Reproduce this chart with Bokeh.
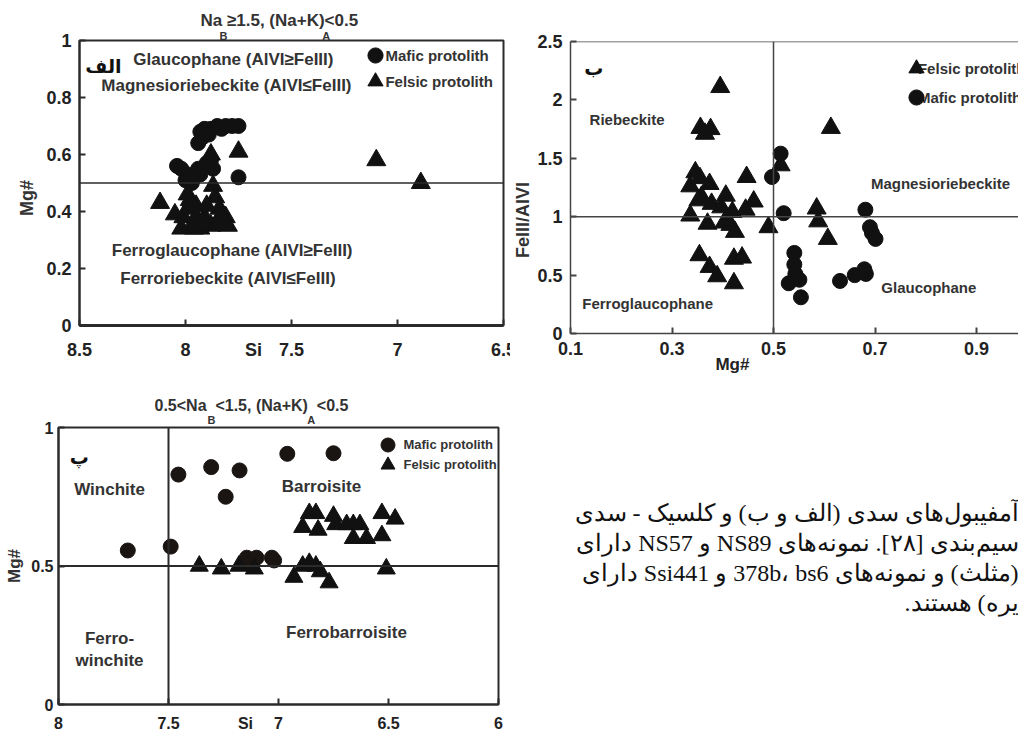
from bokeh.plotting import figure
from bokeh.models import (Range1d, FixedTicker, Span, Label, Legend, LegendItem,
                          LinearAxis, Title)
from bokeh.layouts import column, row
from bokeh.embed import file_html
from bokeh.resources import INLINE

# ---------------- data ----------------
# Panel A (Si vs Mg#)
a_mafic_si = [7.75, 7.78, 7.81, 7.85, 7.88, 7.91, 7.93, 7.92, 7.94, 7.89, 7.83,
              8.04, 8.02, 7.99, 7.96, 7.93, 7.87, 7.90, 7.97, 7.75, 7.88, 8.00, 7.94]
a_mafic_mg = [0.70, 0.70, 0.70, 0.70, 0.69, 0.69, 0.68, 0.66, 0.64, 0.67, 0.69,
              0.56, 0.55, 0.53, 0.52, 0.53, 0.55, 0.57, 0.50, 0.52, 0.58, 0.51, 0.55]
a_felsic_si = [8.12, 8.05, 7.99, 7.95, 7.87, 7.88, 7.75, 7.10, 6.89, 7.86, 7.84, 8.01,
               7.91, 7.81, 7.97, 7.93, 7.88, 7.84, 7.80, 8.02, 7.96, 7.99, 7.95, 7.90,
               7.83, 7.92, 7.98]
a_felsic_mg = [0.43, 0.39, 0.46, 0.42, 0.49, 0.60, 0.61, 0.58, 0.50, 0.45, 0.41, 0.38,
               0.38, 0.38, 0.35, 0.34, 0.35, 0.36, 0.35, 0.34, 0.34, 0.41, 0.38, 0.42,
               0.39, 0.36, 0.44]
a_xticks = [8.5, 8.0, 7.5, 7.0, 6.5]
a_xlabels = ["8.5", "8", "7.5", "7", "6.5"]
a_yticks = [0, 0.2, 0.4, 0.6, 0.8, 1.0]
a_ylabels = ["0", "0.2", "0.4", "0.6", "0.8", "1"]
a_xtitle_at = 7.679
a_mg_split = 0.5

# Panel B (Mg# vs FeIII/AlVI)
b_felsic_mg = [0.395, 0.356, 0.376, 0.365, 0.613, 0.346, 0.336, 0.355, 0.374, 0.358,
               0.352, 0.378, 0.397, 0.406, 0.419, 0.336, 0.370, 0.403, 0.415, 0.424,
               0.447, 0.461, 0.445, 0.490, 0.514, 0.585, 0.588, 0.607, 0.354, 0.374,
               0.389, 0.422, 0.438, 0.422]
b_felsic_fe = [2.11, 1.76, 1.75, 1.71, 1.76, 1.38, 1.26, 1.33, 1.28, 1.17,
               1.14, 1.11, 1.08, 1.18, 1.04, 1.01, 0.94, 0.95, 0.93, 0.87,
               1.34, 1.13, 1.06, 0.91, 1.44, 1.07, 0.96, 0.81, 0.67, 0.57,
               0.49, 0.64, 0.65, 0.43]
b_mafic_mg = [0.514, 0.497, 0.520, 0.681, 0.690, 0.694, 0.701, 0.541, 0.541, 0.543,
              0.530, 0.551, 0.554, 0.631, 0.660, 0.682, 0.679]
b_mafic_fe = [1.54, 1.34, 1.03, 1.06, 0.91, 0.86, 0.81, 0.69, 0.59, 0.51,
              0.43, 0.46, 0.31, 0.45, 0.50, 0.51, 0.55]
b_xticks = [0.1, 0.3, 0.5, 0.7, 0.9]
b_xlabels = ["0.1", "0.3", "0.5", "0.7", "0.9"]
b_yticks = [0, 0.5, 1.0, 1.5, 2.0, 2.5]
b_ylabels = ["0", "0.5", "1", "1.5", "2", "2.5"]
b_xtitle_at = 0.419
b_mg_split = 0.5
b_fe_split = 1.0

# Panel C (Si vs Mg#)
c_mafic_si = [7.685, 7.49, 7.455, 7.306, 7.177, 7.24, 6.96, 6.75,
              7.144, 7.114, 7.13, 7.03, 7.02, 7.10]
c_mafic_mg = [0.556, 0.57, 0.83, 0.857, 0.845, 0.75, 0.905, 0.907,
              0.53, 0.52, 0.51, 0.53, 0.52, 0.53]
c_felsic_si = [7.36, 7.26, 7.18, 7.11, 6.93, 6.89, 6.86, 6.83, 6.81, 6.77, 6.51,
               6.89, 6.86, 6.83, 6.82, 6.75, 6.74, 6.69, 6.66, 6.63, 6.66, 6.60,
               6.53, 6.47, 6.53]
c_felsic_mg = [0.50, 0.49, 0.50, 0.49, 0.46, 0.50, 0.51, 0.50, 0.48, 0.44, 0.49,
               0.64, 0.69, 0.69, 0.63, 0.68, 0.65, 0.65, 0.65, 0.65, 0.60, 0.60,
               0.69, 0.67, 0.61]
c_xticks = [8.0, 7.5, 7.0, 6.5, 6.0]
c_xlabels = ["8", "7.5", "7", "6.5", "6"]
c_yticks = [0, 0.5, 1.0]
c_ylabels = ["0", "0.5", "1"]
c_xtitle_at = 7.15
c_si_split = 7.5
c_mg_split = 0.5

# Persian caption fragments (visible part of the page)
caption_lines = [
    "آمفیبول‌های سدی (الف و ب) و کلسیک - سدی",
    "سیم‌بندی [۲۸]. نمونه‌های NS89 و NS57 دارای",
    "(مثلث) و نمونه‌های 378b، bs6 و Ssi441 دارای",
    "یره) هستند.",
]

# ---------------- styling helpers ----------------
INK = "#2b2b2b"
TXT = "#333333"
SANS = "Liberation Sans"
FA = "DejaVu Sans"
NB = "\u00a0"
MK = "#111111"


def make_fig(w, h, xr, yr, bl, br, bt, bb):
    p = figure(width=w, height=h, x_range=xr, y_range=yr,
               output_backend="svg", toolbar_location=None,
               x_axis_location=None, y_axis_location=None,
               min_border_left=bl, min_border_right=br,
               min_border_top=bt, min_border_bottom=bb)
    p.xgrid.visible = False
    p.ygrid.visible = False
    p.title.text = ""
    return p


def inner_axis(ticks, color, lw):
    return LinearAxis(ticker=FixedTicker(ticks=ticks), axis_line_color=color,
                      axis_line_width=lw, major_tick_in=6, major_tick_out=0,
                      major_tick_line_color=color, major_tick_line_width=2,
                      minor_tick_line_color=None, major_label_text_font_size="0px",
                      major_label_standoff=0,
                      major_label_overrides={t: "" for t in ticks})


def label_axis(ticks, labels, fs, standoff, title=None, tsize="18px", tstand=5):
    ax = LinearAxis(ticker=FixedTicker(ticks=ticks), axis_line_color=None,
                    major_tick_line_color=None, minor_tick_line_color=None,
                    major_tick_in=0, major_tick_out=0,
                    major_label_overrides={t: s for t, s in zip(ticks, labels)},
                    major_label_standoff=standoff, major_label_text_font=SANS,
                    major_label_text_font_style="bold",
                    major_label_text_font_size=fs, major_label_text_color="#222222")
    if title is not None:
        ax.axis_label = title
        ax.axis_label_text_font = SANS
        ax.axis_label_text_font_style = "bold"
        ax.axis_label_text_font_size = tsize
        ax.axis_label_text_color = TXT
        ax.axis_label_standoff = tstand
    return ax


def lab(p, x, y, text, size="14px", align="center", font=SANS, bg=None, color=TXT):
    l = Label(x=x, y=y, text=text, text_font=font, text_font_size=size,
              text_font_style="bold", text_align=align, text_baseline="middle",
              text_color=color)
    if bg:
        l.background_fill_color = bg
        l.padding = 2
    p.add_layout(l)


def key(p, r, loc, g):
    p.add_layout(Legend(items=[LegendItem(label=" ", renderers=[r])], location=loc,
                        glyph_width=g, glyph_height=g, label_standoff=0, padding=0,
                        margin=0, spacing=0, border_line_alpha=0,
                        background_fill_alpha=0, label_text_font_size="8px"))


def titles(p, main, main_off, main_size, main_stand, sub, sub_off, sub_stand):
    p.add_layout(Title(text=sub, align="left", offset=sub_off, text_font=SANS,
                       text_font_size="11px", text_font_style="bold",
                       text_color=TXT, standoff=sub_stand), "above")
    p.add_layout(Title(text=main, align="left", offset=main_off, text_font=SANS,
                       text_font_size=main_size, text_font_style="bold",
                       text_color=TXT, standoff=main_stand), "above")


ROW1 = 384

# ---------------- Panel A ----------------
pa = make_fig(510, ROW1, Range1d(8.5, 6.5), Range1d(0, 1), 79, 7, 40, ROW1 - 325)
pa.outline_line_color = INK
pa.outline_line_width = 2
pa.add_layout(inner_axis(a_xticks, INK, 3), "below")
pa.add_layout(label_axis(a_xticks + [a_xtitle_at], a_xlabels + ["Si"], "18px", 14), "below")
pa.add_layout(inner_axis(a_yticks, INK, 2), "left")
pa.add_layout(label_axis(a_yticks, a_ylabels, "18px", 8, "Mg#" + NB * 6, "18px", 6), "left")
pa.add_layout(Span(location=a_mg_split, dimension="width", line_color=INK, line_width=1.5))
ra_m = pa.scatter(a_mafic_si, a_mafic_mg, marker="circle", size=15, fill_color=MK, line_color=MK)
ra_f = pa.scatter(a_felsic_si, a_felsic_mg, marker="triangle", size=19, fill_color=MK, line_color=MK)
lab(pa, 7.774, 0.933, "Glaucophane (AlVI≥FeIII)", "17px")
lab(pa, 7.807, 0.842, "Magnesioriebeckite (AlVI≤FeIII)", "17px")
lab(pa, 7.78, 0.263, "Ferroglaucophane (AlVI≥FeIII)", "17px")
lab(pa, 7.80, 0.165, "Ferroriebeckite (AlVI≤FeIII)", "17px")
lab(pa, 8.387, 0.909, "الف", "19px", font=FA, bg="white", color="#111111")
key(pa, ra_m, (277, 251), 38)
key(pa, ra_f, (277, 225), 38)
lab(pa, 7.057, 0.947, "Mafic protolith", "15px", align="left")
lab(pa, 7.057, 0.856, "Felsic protolith", "15px", align="left")
titles(pa, "Na ≥1.5, (Na+K)<0.5", 121, "17px", 0, "B" + NB * 31 + "A", 140, -3)

# ---------------- Panel B ----------------
BI = "#444444"
pb = make_fig(508, ROW1, Range1d(0.1, 0.1 + 459 / 520), Range1d(0, 2.5), 49, 0, 41, ROW1 - 333)
pb.outline_line_alpha = 0
pb.add_layout(inner_axis(b_xticks, BI, 1.5), "below")
pb.add_layout(label_axis(b_xticks, b_xlabels, "18px", 8), "below")
pb.add_layout(label_axis([b_xtitle_at], ["Mg#"], "17px", -3), "below")
pb.add_layout(inner_axis(b_yticks, BI, 1.5), "left")
pb.add_layout(label_axis(b_yticks, b_ylabels, "18px", 8, "FeIII/AlVI" + NB * 13, "18px", 1), "left")
pb.add_layout(Span(location=2.5, dimension="width", line_color=BI, line_width=1.5))
pb.add_layout(Span(location=b_mg_split, dimension="height", line_color=BI, line_width=1.5))
pb.add_layout(Span(location=b_fe_split, dimension="width", line_color=BI, line_width=1.5))
rb_f = pb.scatter(b_felsic_mg, b_felsic_fe, marker="triangle", size=19, fill_color=MK, line_color=MK)
rb_m = pb.scatter(b_mafic_mg, b_mafic_fe, marker="circle", size=15, fill_color=MK, line_color=MK)
lab(pb, 0.2115, 1.832, "Riebeckite", "15px")
lab(pb, 0.829, 1.284, "Magnesioriebeckite", "15px")
lab(pb, 0.806, 0.394, "Glaucophane", "15px")
lab(pb, 0.252, 0.257, "Ferroglaucophane", "15px")
lab(pb, 0.146, 2.269, "ب", "19px", font=FA, bg="white", color="#111111")
key(pb, rb_f, (327, 246), 38)
key(pb, rb_m, (327, 217), 38)
lab(pb, 0.7846, 2.269, "Felsic protolith", "15px", align="left")
lab(pb, 0.7846, 2.021, "Mafic protolith", "15px", align="left")

# ---------------- Panel C ----------------
CH = 738 - ROW1
pc = make_fig(510, CH, Range1d(8.0, 6.0), Range1d(0, 1), 58, 12, 427 - ROW1, 34)
pc.outline_line_color = INK
pc.outline_line_width = 2
pc.add_layout(inner_axis(c_xticks, INK, 2), "below")
pc.add_layout(label_axis(c_xticks + [c_xtitle_at], c_xlabels + ["Si"], "16px", 10), "below")
pc.add_layout(inner_axis(c_yticks, INK, 2), "left")
pc.add_layout(label_axis(c_yticks, c_ylabels, "16px", 5, "Mg#", "17px", 4), "left")
pc.add_layout(Span(location=c_si_split, dimension="height", line_color=INK, line_width=2))
pc.add_layout(Span(location=c_mg_split, dimension="width", line_color=INK, line_width=2))
rc_m = pc.scatter(c_mafic_si, c_mafic_mg, marker="circle", size=15, fill_color="#1a1512", line_color="#1a1512")
rc_f = pc.scatter(c_felsic_si, c_felsic_mg, marker="triangle", size=18, fill_color=MK, line_color=MK)
lab(pc, 7.768, 0.776, "Winchite", "17px")
lab(pc, 6.805, 0.787, "Barroisite", "17px")
lab(pc, 7.768, 0.238, "Ferro-", "17px")
lab(pc, 7.768, 0.159, "winchite", "17px")
lab(pc, 6.691, 0.260, "Ferrobarroisite", "17px")
lab(pc, 7.905, 0.892, "پ", "19px", font=FA, bg="white", color="#111111")
key(pc, rc_m, (312, 242), 35)
key(pc, rc_f, (312, 222), 35)
lab(pc, 6.432, 0.939, "Mafic protolith", "13px", align="left")
lab(pc, 6.432, 0.866, "Felsic protolith", "13px", align="left")
titles(pc, "0.5<Na" + NB * 2 + "<1.5, (Na+K)" + NB * 2 + "<0.5", 96, "16px", -6,
       "B" + NB * 30 + "A", 149, 3)

# ---------------- caption panel (frame aligned with panel C: 427..704 px) ----------------
pt = figure(width=508, height=CH, x_range=Range1d(0, 508), y_range=Range1d(0, 277),
            output_backend="svg", toolbar_location=None,
            x_axis_location=None, y_axis_location=None,
            min_border_left=0, min_border_right=0, min_border_top=427 - ROW1,
            min_border_bottom=34)
pt.xgrid.visible = False
pt.ygrid.visible = False
pt.outline_line_alpha = 0
pt.title.text = ""
caption_py = [512, 542, 572, 602]
for s, py in zip(caption_lines, caption_py):
    pt.add_layout(Label(x=508, y=704 - py, text="\u202b" + s + "\u202c",
                        text_font="Liberation Serif",
                        text_font_size="24px", text_align="right",
                        text_baseline="middle", text_color="#111111"))

layout = column(row(column(pa), column(pb)), row(pc, pt))
open("out.html", "w").write(file_html(layout, INLINE))
